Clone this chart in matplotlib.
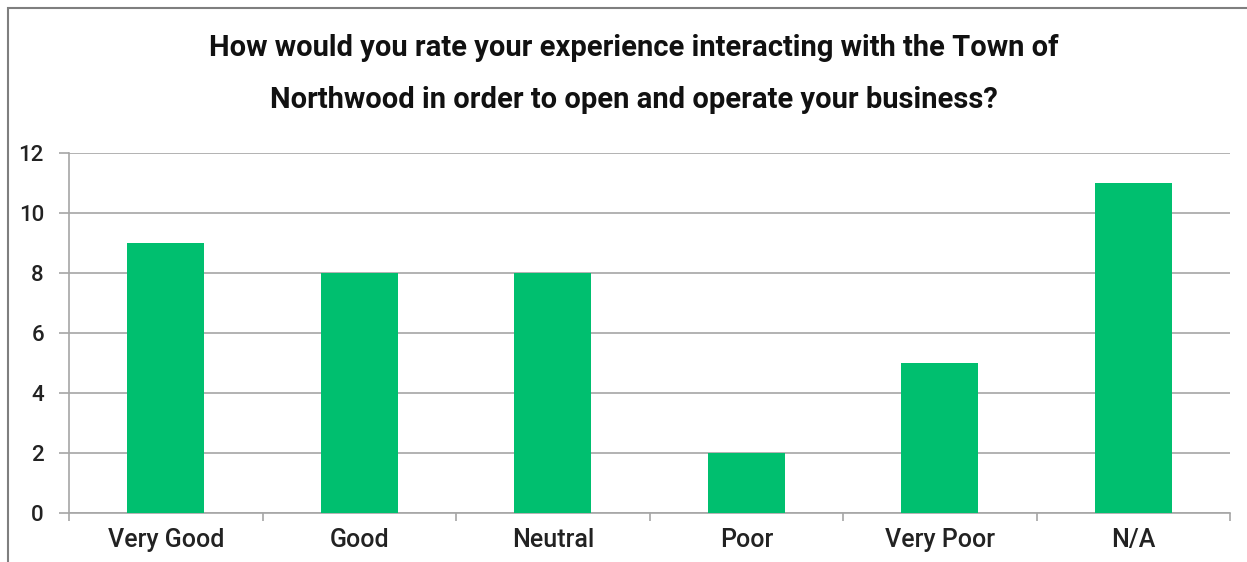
import matplotlib
matplotlib.use("Agg")
import matplotlib.pyplot as plt
from matplotlib.patches import Rectangle
import numpy as np

categories = ["Very Good", "Good", "Neutral", "Poor", "Very Poor", "N/A"]
values = [9, 8, 8, 2, 5, 11]
yticks = [0, 2, 4, 6, 8, 10, 12]
title_lines = ["How would you rate your experience interacting with the Town of",
               "Northwood in order to open and operate your business?"]

plt.rcParams['font.family'] = ['Roboto', 'DejaVu Sans']
W, H = 1247, 562
fig = plt.figure(figsize=(W/100, H/100), dpi=100)
ax = fig.add_axes([69/W, 1-513/H, (1230-69)/W, (513-153)/H])

x = np.arange(len(categories))
ax.bar(x, values, width=0.4, color="#00BF6F", zorder=3)
ax.set_xlim(-0.5, len(categories)-0.5)
ax.set_ylim(0, 12)
ax.set_yticks(yticks)
ax.set_yticklabels([str(t) for t in yticks], fontsize=16, color="#222222", fontweight='medium')
ax.yaxis.grid(True, color="#A6A6A6", linewidth=1.2, zorder=0)
ax.tick_params(axis='y', length=7, color="#A6A6A6", width=1.2, pad=11)
ax.set_xticks(np.arange(-0.5, len(categories), 1.0))
ax.set_xticklabels([])
ax.set_xticks(x, minor=True)
ax.set_xticklabels(categories, minor=True, fontsize=18, color="#222222", fontweight='medium')
ax.tick_params(axis='x', which='major', length=6, color="#A6A6A6", width=1.2)
ax.tick_params(axis='x', which='minor', length=0, pad=11)
for s in ["top", "right"]:
    ax.spines[s].set_visible(False)
for s in ["left", "bottom"]:
    ax.spines[s].set_color("#A6A6A6")
    ax.spines[s].set_linewidth(1.2)

for yy, line in zip([48, 100], title_lines):
    fig.text(634/W, 1-yy/H, line, ha='center', va='center', fontsize=21,
             fontweight='bold', color="#111111")

fig.patches.append(Rectangle((8/W, -0.5), 2, 0.5+1-8/H, transform=fig.transFigure,
                             fill=False, edgecolor="#7F7F7F", linewidth=1.5))

fig.savefig("out.png", dpi=100)
